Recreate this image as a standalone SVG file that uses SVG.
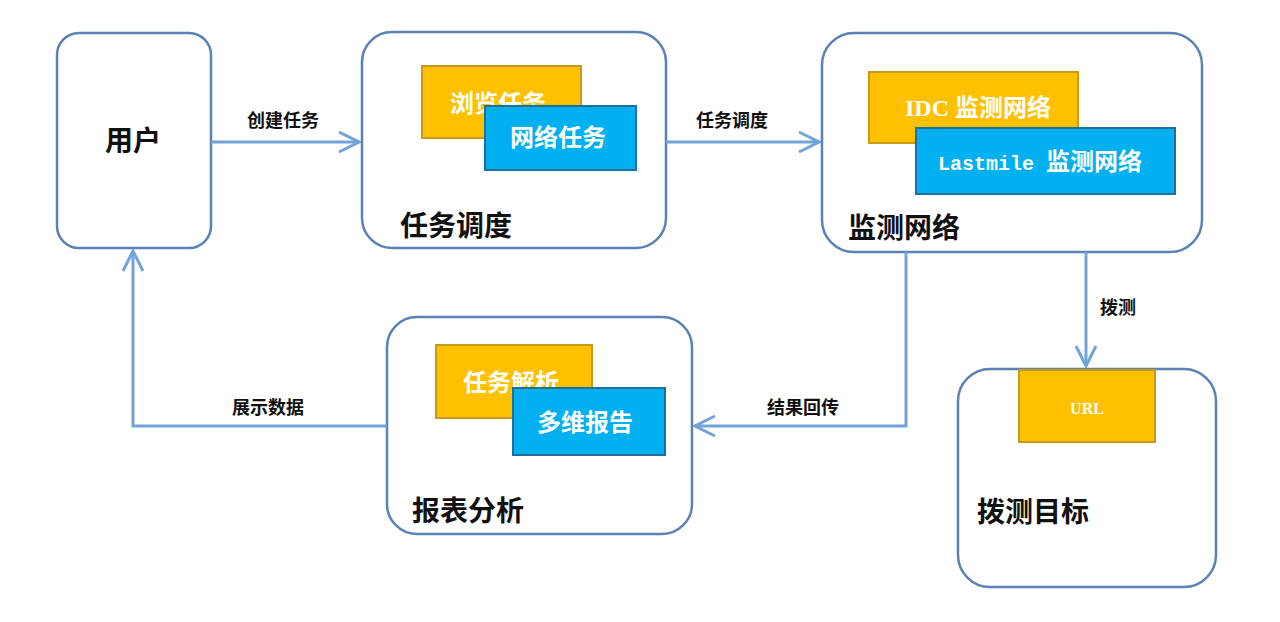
<svg xmlns="http://www.w3.org/2000/svg" width="1280" height="622" viewBox="0 0 1280 622">
<style>
.box{fill:#fff;stroke:#5b82b4;stroke-width:2.5}
.or{fill:#ffc000;stroke:#c99a1a;stroke-width:2}
.bl{fill:#00b0f0;stroke:#1f6e9c;stroke-width:2}
.wt{fill:#fff;font-family:"Liberation Serif","Noto Sans CJK SC",serif;font-size:24px;font-weight:bold}
.lb{fill:#111;font-family:"Liberation Serif","Noto Sans CJK SC",serif;font-size:28px;font-weight:bold}
.cl{fill:#111;font-family:"Liberation Serif","Noto Sans CJK SC",serif;font-size:18px;font-weight:bold;text-anchor:middle}
.mono{font-family:"Liberation Mono",monospace;font-size:20px}
.ln{fill:none;stroke:#72a2da;stroke-width:3}
</style>
<defs>
<marker id="ar" viewBox="0 0 12 12" refX="11" refY="6" markerWidth="8" markerHeight="8" orient="auto" markerUnits="strokeWidth">
<path d="M1,1 L11,6 L1,11" fill="none" stroke="#72a2da" stroke-width="1.5"/>
</marker>
</defs>
<rect width="1280" height="622" fill="#fff"/>
<g id="user">
<rect class="box" x="57" y="33" width="154" height="215" rx="22"/>
<text class="lb" x="133" y="151" text-anchor="middle">用户</text>
</g>
<g id="dispatch">
<rect class="box" x="362" y="32" width="304" height="216" rx="30"/>
<rect class="or" x="422" y="66" width="159" height="72"/>
<text class="wt" x="450" y="112">浏览任务</text>
<rect class="bl" x="485" y="106" width="151" height="64"/>
<text class="wt" x="510" y="146">网络任务</text>
<text class="lb" x="400" y="236">任务调度</text>
</g>
<g id="monitor">
<rect class="box" x="822" y="33" width="380" height="219" rx="32"/>
<rect class="or" x="869" y="72" width="209" height="71"/>
<text class="wt" x="905" y="116">IDC 监测网络</text>
<rect class="bl" x="916" y="128" width="259" height="66"/>
<text class="wt" x="938" y="170"><tspan class="mono">Lastmile </tspan>监测网络</text>
<text class="lb" x="848" y="238">监测网络</text>
</g>
<g id="report">
<rect class="box" x="387" y="317" width="305" height="217" rx="30"/>
<rect class="or" x="436" y="345" width="156" height="73"/>
<text class="wt" x="463" y="391">任务解析</text>
<rect class="bl" x="513" y="388" width="152" height="67"/>
<text class="wt" x="537" y="431">多维报告</text>
<text class="lb" x="412" y="521">报表分析</text>
</g>
<g id="target">
<rect class="box" x="958" y="369" width="258" height="218" rx="32"/>
<rect class="or" x="1019" y="370" width="136" height="72"/>
<text class="wt" x="1087" y="414" text-anchor="middle" style="font-size:16px">URL</text>
<text class="lb" x="977" y="522">拨测目标</text>
</g>
<g id="connectors">
<path class="ln" d="M211,142 L359,142" marker-end="url(#ar)"/>
<text class="cl" x="283" y="127">创建任务</text>
<path class="ln" d="M666,142 L819,142" marker-end="url(#ar)"/>
<text class="cl" x="732" y="127">任务调度</text>
<path class="ln" d="M1086,252 L1086,366" marker-end="url(#ar)"/>
<text class="cl" x="1118" y="314">拨测</text>
<path class="ln" d="M906,252 L906,426 L695,426" marker-end="url(#ar)"/>
<text class="cl" x="803" y="414">结果回传</text>
<path class="ln" d="M387,426 L133,426 L133,251" marker-end="url(#ar)"/>
<text class="cl" x="268" y="414">展示数据</text>
</g>
</svg>
